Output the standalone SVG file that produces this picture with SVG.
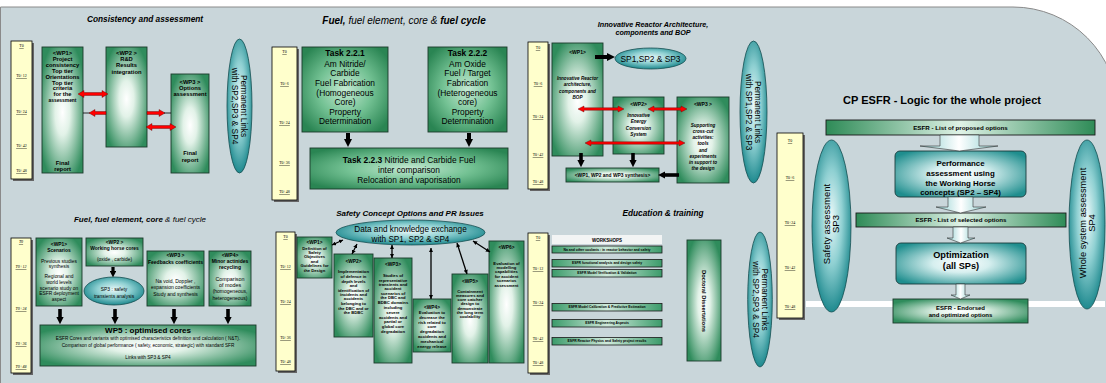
<svg xmlns="http://www.w3.org/2000/svg" width="1106" height="383" viewBox="0 0 1106 383">
<defs>
<radialGradient id="gG" cx="50%" cy="52%" r="60%"><stop offset="0" stop-color="#ffffff"/><stop offset="0.3" stop-color="#e2f2e8"/><stop offset="1" stop-color="#2f8c5c"/></radialGradient>
<radialGradient id="gT" cx="50%" cy="50%" r="62%"><stop offset="0" stop-color="#c4e8d2"/><stop offset="0.5" stop-color="#74c294"/><stop offset="1" stop-color="#2a8553"/></radialGradient>
<radialGradient id="gE" cx="50%" cy="45%" r="55%"><stop offset="0" stop-color="#eaf8f8"/><stop offset="0.5" stop-color="#8fd0d2"/><stop offset="1" stop-color="#1f8a8f"/></radialGradient>
<radialGradient id="gB" cx="50%" cy="50%" r="62%"><stop offset="0" stop-color="#ffffff"/><stop offset="0.35" stop-color="#d6efef"/><stop offset="1" stop-color="#1f8e8e"/></radialGradient>
<linearGradient id="gH" x1="0" y1="0" x2="1" y2="0"><stop offset="0" stop-color="#2e8b57"/><stop offset="0.5" stop-color="#dff2e6"/><stop offset="1" stop-color="#2e8b57"/></linearGradient>
<linearGradient id="gW" x1="0" y1="0" x2="1" y2="0"><stop offset="0" stop-color="#3b9b6a"/><stop offset="0.5" stop-color="#cfeadb"/><stop offset="1" stop-color="#3b9b6a"/></linearGradient>
<linearGradient id="gA" x1="0" y1="0" x2="1" y2="0"><stop offset="0" stop-color="#8fd0d0"/><stop offset="0.5" stop-color="#ffffff"/><stop offset="1" stop-color="#8fd0d0"/></linearGradient>
<marker id="hb" viewBox="0 0 10 10" refX="0" refY="5" markerWidth="2" markerHeight="2" orient="auto"><path d="M0,0L10,5L0,10z" fill="#000"/></marker>
<marker id="hs" viewBox="0 0 10 10" refX="10" refY="5" markerWidth="3.2" markerHeight="3.2" orient="auto-start-reverse"><path d="M0,0L10,5L0,10z" fill="#000"/></marker>
</defs>
<style>
text{font-family:"Liberation Sans",Arial,Helvetica,sans-serif;fill:#000}
.m{text-anchor:middle}
.b{font-weight:bold}
.i{font-style:italic}
.tl{font-family:"Liberation Serif","Times New Roman",serif;font-size:4px;text-anchor:middle;text-decoration:underline}
.tbar{fill:#ffffcc;stroke:#000;stroke-width:0.8}
.tsh{fill:#666}
.wp{fill:url(#gG);stroke:#1c3a2a;stroke-width:0.9}
.tk{fill:url(#gT);stroke:#1c3a2a;stroke-width:0.9}
.el{fill:url(#gE);stroke:#174f52;stroke-width:0.8}
.tb{fill:url(#gB);stroke:#1b3d3d;stroke-width:0.9}
.hb{fill:url(#gH);stroke:#1a1a1a;stroke-width:0.9}
.ws{fill:url(#gW);stroke:#1a1a1a;stroke-width:0.8}
.ra{fill:#ff0000;stroke:#5a0000;stroke-width:0.4}
.ba{fill:url(#gA);stroke:#333;stroke-width:0.6}
.ka{stroke:#000;fill:none;marker-end:url(#hb)}
.da{stroke:#000;stroke-width:1.3;fill:none;marker-start:url(#hs);marker-end:url(#hs)}
</style>
<rect width="1106" height="383" fill="#ffffff"/>
<path d="M0.5,7 H1013 A105,105 0 0 1 1118,112 V390 H0.5 Z" fill="#c9d6da" stroke="#8a8a8a" stroke-width="1"/>
<rect x="806" y="301" width="299" height="6" fill="#ffffff"/>

<!-- Panel 1 -->
<g id="p1-title"><text x="145" y="22" class="m b i" font-size="8.3">Consistency and assessment</text></g>
<g id="p1-timeline"><rect class="tsh" x="13" y="43" width="21" height="138"/><rect class="tbar" x="11" y="41" width="21" height="138"/>
<text class="tl"><tspan x="21.5" y="47.2">T0</tspan><tspan x="21.5" y="77.2">T0+12</tspan><tspan x="21.5" y="113.2">T0+24</tspan><tspan x="21.5" y="147.2">T0+42</tspan><tspan x="21.5" y="172.2">T0+48</tspan></text></g>
<g id="p1-wp1"><rect class="wp" x="42" y="47" width="41" height="126"/>
<text class="m b" font-size="5.8"><tspan x="62.5" y="54.7">&lt;WP1&gt;</tspan><tspan x="62.5" y="61.3">Project</tspan><tspan x="62.5" y="67.3">consistency</tspan><tspan x="62.5" y="73">Top tier</tspan><tspan x="62.5" y="78.7">Orientations</tspan><tspan x="62.5" y="84.7">Top tier</tspan><tspan x="62.5" y="90.3">criteria</tspan><tspan x="62.5" y="96.3">for the</tspan><tspan x="62.5" y="102" font-size="4.9">assessment</tspan><tspan x="62.5" y="164.7">Final</tspan><tspan x="62.5" y="170.5">report</tspan></text></g>
<g id="p1-wp2"><rect class="wp" x="106" y="47" width="41" height="100"/>
<text class="m b" font-size="5.8"><tspan x="126.5" y="54.7">&lt;WP2 &gt;</tspan><tspan x="126.5" y="61.3">R&amp;D</tspan><tspan x="126.5" y="67.3">Results</tspan><tspan x="126.5" y="73.7">integration</tspan></text></g>
<g id="p1-wp3"><rect class="wp" x="171" y="74" width="38" height="99"/>
<text class="m b" font-size="5.8"><tspan x="190" y="83.7">&lt;WP3 &gt;</tspan><tspan x="190" y="89.5">Options</tspan><tspan x="190" y="96">assessment</tspan><tspan x="190" y="155.3">Final</tspan><tspan x="190" y="162">report</tspan></text></g>
<g id="p1-links"><ellipse class="el" cx="239.5" cy="106" rx="12.5" ry="67"/>
<text class="m" font-size="8.3" transform="translate(239.5,106) rotate(90)"><tspan x="0" y="-1.5">Permanent Links</tspan><tspan x="0" y="7.5">with SP2,SP3 &amp; SP4</tspan></text></g>

<!-- Panel 2 -->
<g id="p2-title"><text x="404" y="23.5" class="m i" font-size="10"><tspan class="b">Fuel,</tspan> fuel element, core &amp; <tspan class="b">fuel cycle</tspan></text></g>
<g id="p2-timeline"><rect class="tsh" x="274" y="49" width="25" height="153"/><rect class="tbar" x="272" y="47" width="25" height="153"/>
<text class="tl"><tspan x="284.5" y="53.2">T0</tspan><tspan x="284.5" y="85.2">T0+6</tspan><tspan x="284.5" y="124.2">T0+24</tspan><tspan x="284.5" y="164.2">T0+36</tspan><tspan x="284.5" y="193.2">T0+48</tspan></text></g>
<g id="p2-t221"><rect class="tk" x="302" y="47" width="86" height="85"/>
<text class="m" font-size="8.4"><tspan x="345" y="56.3" class="b">Task 2.2.1</tspan><tspan x="345" y="67">Am Nitride/</tspan><tspan x="345" y="76">Carbide</tspan><tspan x="345" y="86.3">Fuel Fabrication</tspan><tspan x="345" y="95.7">(Homogeneous</tspan><tspan x="345" y="104.7">Core)</tspan><tspan x="345" y="114.7">Property</tspan><tspan x="345" y="123.7">Determination</tspan></text></g>
<g id="p2-t222"><rect class="tk" x="428" y="47" width="79" height="85"/>
<text class="m" font-size="8.4"><tspan x="467.5" y="56.3" class="b">Task 2.2.2</tspan><tspan x="467.5" y="67">Am Oxide</tspan><tspan x="467.5" y="76">Fuel / Target</tspan><tspan x="467.5" y="86.3">Fabrication</tspan><tspan x="467.5" y="95.7">(Heterogeneous</tspan><tspan x="467.5" y="104.7">core)</tspan><tspan x="467.5" y="114.7">Property</tspan><tspan x="467.5" y="123.7">Determination</tspan></text></g>
<g id="p2-t223"><rect class="tk" x="310" y="148" width="198" height="41"/>
<text class="m" font-size="8.4"><tspan x="409" y="163"><tspan class="b">Task 2.2.3</tspan> Nitride and Carbide Fuel</tspan><tspan x="409" y="173">inter comparison</tspan><tspan x="409" y="183">Relocation and vaporisation</tspan></text></g>

<!-- Panel 3 -->
<g id="p3-title"><text class="m b i" font-size="7.2"><tspan x="653" y="26.5">Innovative Reactor Architecture,</tspan><tspan x="653" y="34.5">components and BOP</tspan></text></g>
<g id="p3-timeline"><rect class="tsh" x="530" y="44" width="20" height="147"/><rect class="tbar" x="528" y="42" width="20" height="147"/>
<text class="tl"><tspan x="538" y="49.2">T0</tspan><tspan x="538" y="85.2">T0+6</tspan><tspan x="538" y="118.2">T0+24</tspan><tspan x="538" y="156.2">T0+42</tspan><tspan x="538" y="183.2">T0+48</tspan></text></g>
<g id="p3-wp1"><rect class="wp" x="552" y="43" width="51" height="113"/>
<text class="m b" font-size="5"><tspan x="577.5" y="53.7">&lt;WP1&gt;</tspan></text>
<text class="m b i" font-size="4.6"><tspan x="577.5" y="79.8">Innovative Reactor</tspan><tspan x="577.5" y="86.3">architecture,</tspan><tspan x="577.5" y="92.6">components and</tspan><tspan x="577.5" y="99">BOP</tspan></text></g>
<g id="p3-sp"><ellipse class="el" cx="650.5" cy="58.5" rx="35.5" ry="10.5"/><text x="650.5" y="61.5" class="m" font-size="8.4">SP1,SP2 &amp; SP3</text></g>
<g id="p3-wp2"><rect class="wp" x="613" y="97" width="51" height="57"/>
<text class="m b" font-size="5"><tspan x="638.5" y="106">&lt;WP2&gt;</tspan></text>
<text class="m b i" font-size="4.6"><tspan x="638.5" y="116.5">Innovative</tspan><tspan x="638.5" y="123.3">Energy</tspan><tspan x="638.5" y="129.5">Conversion</tspan><tspan x="638.5" y="135.5">System</tspan></text></g>
<g id="p3-wp3"><rect class="wp" x="677" y="97" width="52" height="86"/>
<text class="m b" font-size="5"><tspan x="703" y="106">&lt;WP3 &gt;</tspan></text>
<text class="m b i" font-size="4.6"><tspan x="703" y="126.5">Supporting</tspan><tspan x="703" y="132.5">cross-cut</tspan><tspan x="703" y="138.5">activities:</tspan><tspan x="703" y="145">tools</tspan><tspan x="703" y="151.5">and</tspan><tspan x="703" y="157.5">experiments</tspan><tspan x="703" y="163.5">in support to</tspan><tspan x="703" y="169.5">the design</tspan></text></g>
<g id="p3-syn"><rect class="wp" x="566" y="168" width="93" height="14"/><text x="612.5" y="176.7" class="m b" font-size="4.9">&lt;WP1, WP2 and WP3 synthesis&gt;</text></g>
<g id="p3-links"><ellipse class="el" cx="753.5" cy="112" rx="13.5" ry="71"/>
<text class="m" font-size="8.3" transform="translate(753.5,112) rotate(90)"><tspan x="0" y="-1.5">Permanent Links</tspan><tspan x="0" y="7.5">with SP1,SP2 &amp; SP3</tspan></text></g>

<!-- Panel 4 -->
<g id="p4-title"><text x="942" y="104" class="m b" font-size="11">CP ESFR - Logic for the whole project</text></g>
<g id="p4-timeline"><rect class="tsh" x="779" y="135" width="26" height="185"/><rect class="tbar" x="777" y="133" width="26" height="185"/>
<text class="tl"><tspan x="790" y="142.2">T0</tspan><tspan x="790" y="179.2">T0+6</tspan><tspan x="790" y="224.2">T0+24</tspan><tspan x="790" y="269.2">T0+42</tspan><tspan x="790" y="308.2">T0+48</tspan></text></g>
<g id="p4-safety"><ellipse class="el" cx="831.5" cy="226" rx="19.5" ry="86"/>
<text class="m" font-size="9.5" transform="translate(831.5,224) rotate(-90)"><tspan x="0" y="-1.5">Safety assessment</tspan><tspan x="0" y="7.5">SP3</tspan></text></g>
<g id="p4-whole"><ellipse class="el" cx="1087" cy="224.5" rx="18" ry="84.5"/>
<text class="m" font-size="9.3" transform="translate(1087,223) rotate(-90)"><tspan x="0" y="-1.5">Whole system assessment</tspan><tspan x="0" y="7.5">SP4</tspan></text></g>
<g id="p4-proposed"><rect class="hb" x="826" y="120" width="269" height="15"/><text x="960.5" y="129.7" class="m b" font-size="6.2">ESFR - List of proposed options</text></g>
<g id="p4-perf"><rect class="tb" x="895" y="151" width="131" height="46" rx="5"/>
<text class="m b" font-size="7.9"><tspan x="960.5" y="165.8">Performance</tspan><tspan x="960.5" y="176.3">assessment using</tspan><tspan x="960.5" y="185.8">the Working Horse</tspan><tspan x="960.5" y="195">concepts (SP2 – SP4)</tspan></text></g>
<g id="p4-selected"><rect class="hb" x="856" y="213" width="210" height="14"/><text x="961" y="222.3" class="m b" font-size="6.2">ESFR - List of selected options</text></g>
<g id="p4-opt"><rect class="tb" x="896" y="243" width="130" height="41" rx="5"/>
<text class="m b" font-size="9.2"><tspan x="961" y="258.3">Optimization</tspan><tspan x="961" y="269.3">(all SPs)</tspan></text></g>
<g id="p4-endorsed"><rect class="wp" x="893" y="299" width="135" height="24"/>
<text class="m b" font-size="6"><tspan x="960.5" y="309.8">ESFR - Endorsed</tspan><tspan x="960.5" y="317.2">and optimized options</tspan></text></g>

<!-- Panel 5 -->
<g id="p5-title"><text x="140" y="222" class="m i" font-size="8"><tspan class="b">Fuel, fuel element, core</tspan> &amp; fuel cycle</text></g>
<g id="p5-timeline"><rect class="tsh" x="13" y="240" width="20" height="135"/><rect class="tbar" x="11" y="238" width="20" height="135"/>
<text class="tl i"><tspan x="21" y="243.2">T0</tspan><tspan x="21" y="268.2">T0+12</tspan><tspan x="21" y="310.2">T0+24</tspan><tspan x="21" y="345.2">T0+36</tspan><tspan x="21" y="368.2">T0+48</tspan></text></g>
<g id="p5-wp1"><rect class="wp" x="36" y="238" width="46" height="68"/>
<text class="m" font-size="4.9"><tspan x="59" y="245.8" class="b">&lt;WP1&gt;</tspan><tspan x="59" y="251.5" class="b">Scenarios</tspan><tspan x="59" y="262.5">Previous studies</tspan><tspan x="59" y="267.7">synthesis</tspan><tspan x="59" y="278.2">Regional and</tspan><tspan x="59" y="283.8">world levels</tspan><tspan x="59" y="290">scenario study on</tspan><tspan x="59" y="295.3">ESFR deployment</tspan><tspan x="59" y="300.8">aspect</tspan></text></g>
<g id="p5-wp2"><rect class="wp" x="86" y="238" width="57" height="28"/>
<text class="m" font-size="4.9"><tspan x="114.5" y="243.8" class="b">&lt;WP2 &gt;</tspan><tspan x="114.5" y="249.5" class="b">Working horse cores</tspan><tspan x="114.5" y="260.8">(oxide , carbide)</tspan></text></g>
<g id="p5-sp3"><ellipse class="el" cx="114" cy="291" rx="30" ry="14"/>
<text class="m" font-size="4.9"><tspan x="114" y="290.5">SP3 : safety</tspan><tspan x="114" y="297.5">transients analysis</tspan></text></g>
<g id="p5-wp3"><rect class="wp" x="147" y="251" width="57" height="55"/>
<text class="m" font-size="5"><tspan x="175.5" y="256.5" class="b">&lt;WP3 &gt;</tspan><tspan x="175.5" y="263.5" class="b">Feedbacks coefficients</tspan><tspan x="175.5" y="282.5">Na void, Doppler ,</tspan><tspan x="175.5" y="289.3">expansion coefficients</tspan><tspan x="175.5" y="295.5">Study and synthesis</tspan></text></g>
<g id="p5-wp4"><rect class="wp" x="209" y="251" width="42" height="55"/>
<text class="m" font-size="5"><tspan x="230" y="256.5" class="b">&lt;WP4&gt;</tspan><tspan x="230" y="262.5" class="b">Minor actinides</tspan><tspan x="230" y="268.5" class="b">recycling</tspan><tspan x="230" y="280.5" font-size="5.4">Comparison</tspan><tspan x="230" y="286.5" font-size="5.4">of modes</tspan><tspan x="230" y="293.3">(homogeneous,</tspan><tspan x="230" y="299.5">heterogeneous)</tspan></text></g>
<g id="p5-wp5"><rect class="wp" x="40" y="325" width="216" height="41"/>
<text x="148" y="333" class="m b" font-size="8">WP5 : optimised cores</text>
<text class="m" font-size="4.7"><tspan x="148" y="339.8">ESFR Cores and variants with optimised characteristics definition and calculation ( N&amp;T).</tspan><tspan x="148" y="346.5">Comparison of global performance ( safety, economic, strategic) with standard SFR</tspan><tspan x="148" y="358.5">Links with SP3 &amp; SP4</tspan></text></g>

<!-- Panel 6 -->
<g id="p6-title"><text x="410" y="216" class="m b i" font-size="8">Safety Concept Options and PR Issues</text></g>
<g id="p6-timeline"><rect class="tsh" x="278" y="234" width="19" height="139"/><rect class="tbar" x="276" y="232" width="19" height="139"/>
<text class="tl"><tspan x="285.5" y="238.2">T0</tspan><tspan x="285.5" y="268.2">T0+12</tspan><tspan x="285.5" y="303.2">T0+24</tspan><tspan x="285.5" y="339.2">T0+36</tspan><tspan x="285.5" y="363.2">T0+48</tspan></text></g>
<g id="p6-data"><ellipse class="el" cx="410.5" cy="232.5" rx="74.5" ry="12.5"/>
<text class="m" font-size="8.2"><tspan x="410.5" y="232">Data and knowledge exchange</tspan><tspan x="410.5" y="242">with SP1, SP2 &amp; SP4</tspan></text></g>
<g id="p6-wp1"><rect class="wp" x="297" y="237" width="35" height="41"/>
<text class="m b" font-size="4.2"><tspan x="314.5" y="243.8" font-size="4.8">&lt;WP1&gt;</tspan><tspan x="314.5" y="249.8">Definition of</tspan><tspan x="314.5" y="254">Safety</tspan><tspan x="314.5" y="258.2">Objectives</tspan><tspan x="314.5" y="262.5">and</tspan><tspan x="314.5" y="267.3">Guidelines for</tspan><tspan x="314.5" y="271.5">the Design</tspan></text></g>
<g id="p6-wp2"><rect class="wp" x="334" y="254" width="39" height="83"/>
<text class="m b" font-size="4.2"><tspan x="353.5" y="262.5" font-size="4.8">&lt;WP2&gt;</tspan><tspan x="353.5" y="273.2">Implementation</tspan><tspan x="353.5" y="278">of defence in</tspan><tspan x="353.5" y="282.5">depth levels</tspan><tspan x="353.5" y="287.2">and</tspan><tspan x="353.5" y="291.5">identification of</tspan><tspan x="353.5" y="295.7">incidents and</tspan><tspan x="353.5" y="299.9">accidents</tspan><tspan x="353.5" y="304.8">belonging to</tspan><tspan x="353.5" y="309.6">the DBC and or</tspan><tspan x="353.5" y="314.2">the BDBC</tspan></text></g>
<g id="p6-wp3"><rect class="wp" x="374" y="258" width="38" height="105"/>
<text class="m b" font-size="4.2"><tspan x="393" y="265.5" font-size="4.8">&lt;WP3&gt;</tspan><tspan x="393" y="277.2">Studies of</tspan><tspan x="393" y="281.5">representative</tspan><tspan x="393" y="285.8">transients and</tspan><tspan x="393" y="290.4">accident</tspan><tspan x="393" y="294.8">scenarios of</tspan><tspan x="393" y="299.2">the DBC and</tspan><tspan x="393" y="303.8">BDBC domains</tspan><tspan x="393" y="308.7">including</tspan><tspan x="393" y="313.5">severe</tspan><tspan x="393" y="318.5">accidents and</tspan><tspan x="393" y="323.4">partial or</tspan><tspan x="393" y="328.2">global core</tspan><tspan x="393" y="333.2">degradation</tspan></text></g>
<g id="p6-wp4"><rect class="wp" x="413" y="299" width="38" height="53"/>
<text class="m b" font-size="4.2"><tspan x="432" y="308.6" font-size="4.8">&lt;WP4&gt;</tspan><tspan x="432" y="314.2">Evaluation to</tspan><tspan x="432" y="318.8">decrease the</tspan><tspan x="432" y="323.5">risk related to</tspan><tspan x="432" y="328.2">core</tspan><tspan x="432" y="333.2">degradation</tspan><tspan x="432" y="338.1">accidents and</tspan><tspan x="432" y="343.1">mechanical</tspan><tspan x="432" y="348.1">energy release</tspan></text></g>
<g id="p6-wp5"><rect class="wp" x="452" y="274" width="36" height="89"/>
<text class="m b" font-size="4.2"><tspan x="470" y="282.5" font-size="4.8">&lt;WP5&gt;</tspan><tspan x="470" y="292.5">Containment</tspan><tspan x="470" y="296.8">measures and</tspan><tspan x="470" y="300.9">core catcher</tspan><tspan x="470" y="305.2">design to</tspan><tspan x="470" y="309.5">demonstrate</tspan><tspan x="470" y="313.8">the long term</tspan><tspan x="470" y="318.2">coolability</tspan></text></g>
<g id="p6-wp6"><rect class="wp" x="489" y="241" width="35" height="122"/>
<text class="m b" font-size="4.2"><tspan x="506.5" y="248.8" font-size="4.8">&lt;WP6&gt;</tspan><tspan x="506.5" y="264.8">Evaluation of</tspan><tspan x="506.5" y="268.9">modelling</tspan><tspan x="506.5" y="273.2">capabilities</tspan><tspan x="506.5" y="277.5">for accident</tspan><tspan x="506.5" y="282.1">scenarios</tspan><tspan x="506.5" y="286.5">assessment</tspan></text></g>

<!-- Panel 7 -->
<g id="p7-title"><text x="663" y="216" class="m b i" font-size="8.3">Education &amp; training</text></g>
<g id="p7-timeline"><rect class="tsh" x="530" y="235" width="20" height="140"/><rect class="tbar" x="528" y="233" width="20" height="140"/>
<text class="tl"><tspan x="538" y="239.2">T0</tspan><tspan x="538" y="270.2">T0+12</tspan><tspan x="538" y="304.2">T0+24</tspan><tspan x="538" y="340.2">T0+42</tspan><tspan x="538" y="364.2">T0+48</tspan></text></g>
<g id="p7-workshops"><rect x="552" y="235" width="110" height="9" fill="#f2f4f4"/><text x="607" y="241.5" class="m b" font-size="4.5">WORKSHOPS</text></g>
<g id="p7-ws1"><rect class="ws" x="552" y="246" width="110" height="7"/><text x="607" y="250.7" class="m b" font-size="3.4">Na and other coolants : in reactor behavior and safety</text></g>
<g id="p7-ws2"><rect class="ws" x="552" y="259.5" width="110" height="7.5"/><text x="607" y="264.4" class="m b" font-size="3.4">ESFR functional analysis and design safety</text></g>
<g id="p7-ws3"><rect class="ws" x="552" y="269.5" width="110" height="7.5"/><text x="607" y="274.4" class="m b" font-size="3.4">ESFR Model Verification &amp; Validation</text></g>
<g id="p7-ws4"><rect class="ws" x="552" y="303.5" width="110" height="7.5"/><text x="607" y="308.4" class="m b" font-size="3.4">ESFR Model Calibration &amp; Predictive Estimation</text></g>
<g id="p7-ws5"><rect class="ws" x="552" y="319.5" width="110" height="7.5"/><text x="607" y="324.4" class="m b" font-size="3.4">ESFR Engineering Aspects</text></g>
<g id="p7-ws6"><rect class="ws" x="552" y="337.5" width="110" height="7.5"/><text x="607" y="342.4" class="m b" font-size="3.4">ESFR Reactor Physics and Safety project results</text></g>
<g id="p7-doctoral"><rect class="wp" x="687" y="240" width="34" height="121"/>
<text x="0" y="2" class="m b" font-size="5.8" transform="translate(704,301) rotate(90)">Doctoral Dissertations</text></g>
<g id="p7-links"><ellipse class="el" cx="760" cy="299.5" rx="12.3" ry="67.5"/>
<text class="m" font-size="8.3" transform="translate(760,299.5) rotate(90)"><tspan x="0" y="-1.5">Permanent Links</tspan><tspan x="0" y="7.5">with SP2,SP3 &amp; SP4</tspan></text></g>

<!-- Connectors -->
<g id="connectors">
<polygon class="ra" points="78,94 84,90.5 84,92.5 102,92.5 102,90.5 108,94 102,97.5 102,95.5 84,95.5 84,97.5"/>
<line x1="83" y1="113" x2="90" y2="113" stroke="#000" stroke-width="0.8"/>
<polygon class="ra" points="89,113 95,109.5 95,111.5 106,111.5 106,114.5 95,114.5 95,116.5"/>
<polygon class="ra" points="147,111.5 159,111.5 159,109.5 165,113 159,116.5 159,114.5 147,114.5"/>
<line x1="164" y1="113" x2="171" y2="113" stroke="#000" stroke-width="0.8"/>
<polygon class="ra" points="146,127 152,123.5 152,125.5 170,125.5 170,123.5 176,127 170,130.5 170,128.5 152,128.5 152,130.5"/>
<polygon class="ra" points="578,109 584,106 584,107.8 618,107.8 618,106 624,109 618,112 618,110.2 584,110.2 584,112"/>
<polygon class="ra" points="648,109 654,106 654,107.8 681,107.8 681,106 687,109 681,112 681,110.2 654,110.2 654,112"/>
<polygon class="ra" points="585,143 591,140 591,141.8 679,141.8 679,140 685,143 679,146 679,144.2 591,144.2 591,146"/>
<line class="ka" x1="348" y1="133" x2="348" y2="139" stroke-width="4"/>
<line class="ka" x1="469" y1="133" x2="469" y2="139" stroke-width="4"/>
<line class="ka" x1="595" y1="57" x2="607" y2="57" stroke-width="4"/>
<line class="ka" x1="581" y1="153" x2="581" y2="160" stroke-width="3.6"/>
<line class="ka" x1="633" y1="153" x2="633" y2="160" stroke-width="3.6"/>
<line class="ka" x1="679" y1="175" x2="665" y2="175" stroke-width="3.6"/>
<line class="ka" x1="113" y1="267" x2="113" y2="271" stroke-width="3.2"/>
<line class="ka" x1="60" y1="309" x2="60" y2="317" stroke-width="3.6"/>
<line class="ka" x1="115" y1="309" x2="115" y2="317" stroke-width="3.6"/>
<line class="ka" x1="174" y1="309" x2="174" y2="317" stroke-width="3.6"/>
<line class="ka" x1="228" y1="309" x2="228" y2="317" stroke-width="3.6"/>
<line class="da" x1="343" y1="240" x2="332" y2="245"/>
<line class="da" x1="357" y1="244" x2="352" y2="254"/>
<line class="da" x1="392" y1="245" x2="392" y2="258"/>
<line class="da" x1="431" y1="248" x2="431" y2="299"/>
<line class="da" x1="457" y1="243" x2="467" y2="274"/>
<line class="da" x1="473" y1="241" x2="490" y2="252"/>
<polygon class="ba" points="940,135 979,135 979,146 998,146 959.5,151 920,146 940,146"/>
<polygon class="ba" points="948,197 973,197 973,207 986,207 960.5,213 936,207 948,207"/>
<polygon class="ba" points="953,227 968,227 968,238 975,238 960.5,243 947,238 953,238"/>
<polygon class="ba" points="956,284 965,284 965,295 970,295 960.5,299 951,295 956,295"/>
</g>
</svg>
